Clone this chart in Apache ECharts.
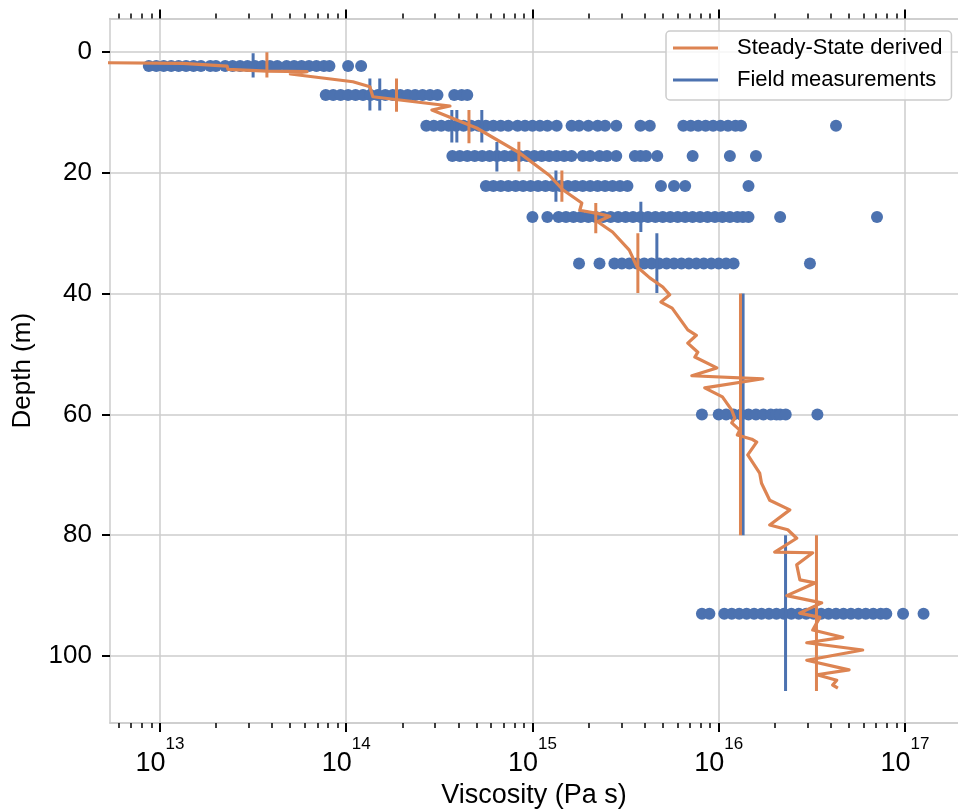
<!DOCTYPE html>
<html>
<head>
<meta charset="utf-8">
<script src="https://cdn.jsdelivr.net/npm/echarts@6/dist/echarts.min.js"></script>
<style>
html, body { margin: 0; padding: 0; background: #fff; }
#chart { width: 958px; height: 812px; }
</style>
</head>
<body>
<div id="chart"></div>
<script>
var chart = echarts.init(document.getElementById('chart'));

var BLUE = '#4c72b0';
var ORANGE = '#dd8452';
var GRID = '#cccccc';
var FONT = 'Liberation Sans';

// axis extents (x as log10 of viscosity)
var xLo = 12.7315, xHi = 17.285;
var yLo = -5.55, yHi = 111.09;

var majorExp = [13, 14, 15, 16, 17];
var depthTicks = [0, 20, 40, 60, 80, 100];

// sample rows: depth of each row and log10 viscosity of the dots
var rowDepths = [2.3, 7.1, 12.2, 17.2, 22.2, 27.3, 35, 60, 93];
var dots2 = [12.94, 12.98, 13.02, 13.06, 13.10, 13.14, 13.18, 13.22, 13.27, 13.30, 13.35, 13.39, 13.43, 13.47,
    13.51, 13.55, 13.59, 13.63, 13.68, 13.72, 13.76, 13.80, 13.84, 13.88, 13.91, 14.01, 14.08];
var dots7 = [13.89, 13.93, 13.97, 14.01, 14.05, 14.09, 14.13, 14.17, 14.21, 14.25, 14.29, 14.33, 14.37, 14.41,
    14.45, 14.49, 14.58, 14.62, 14.65];
var dots12 = [14.43, 14.47, 14.51, 14.55, 14.59, 14.63, 14.67, 14.71, 14.75, 14.79, 14.83, 14.87, 14.92, 14.96,
    15.00, 15.04, 15.08, 15.13, 15.21, 15.25, 15.30, 15.35, 15.39, 15.45, 15.58, 15.63,
    15.81, 15.85, 15.89, 15.93, 15.97, 16.01, 16.05, 16.09, 16.12, 16.63];
var dots17 = [14.57, 14.61, 14.65, 14.69, 14.73, 14.77, 14.81, 14.85, 14.89, 14.93, 14.97, 15.01, 15.05, 15.09,
    15.13, 15.17, 15.21, 15.27, 15.31, 15.36, 15.40, 15.45, 15.55, 15.58, 15.61, 15.67, 15.86, 16.06, 16.20];
var dots22 = [14.75, 14.79, 14.83, 14.87, 14.91, 14.95, 14.99, 15.03, 15.07, 15.11, 15.15, 15.19, 15.23, 15.27,
    15.31, 15.35, 15.39, 15.43, 15.47, 15.51, 15.69, 15.76, 15.82, 16.16];
var dots27 = [15.00, 15.08, 15.14, 15.18, 15.22, 15.26, 15.30, 15.34, 15.38, 15.42, 15.46, 15.50, 15.54, 15.58,
    15.62, 15.66, 15.70, 15.74, 15.78, 15.82, 15.86, 15.90, 15.94, 15.98, 16.02, 16.06, 16.10, 16.13, 16.16,
    16.33, 16.85];
var dots35 = [15.25, 15.36, 15.44, 15.48, 15.52, 15.56, 15.60, 15.64, 15.68, 15.72, 15.76, 15.80, 15.84, 15.88,
    15.92, 15.96, 16.00, 16.04, 16.08, 16.49];
var dots60 = [15.91, 16.00, 16.04, 16.08, 16.12, 16.16, 16.20, 16.24, 16.28, 16.31, 16.33, 16.36, 16.53];
var dots93 = [15.91, 15.95, 16.03, 16.07, 16.11, 16.15, 16.19, 16.23, 16.27, 16.31, 16.35, 16.39, 16.43, 16.47,
    16.51, 16.55, 16.59, 16.63, 16.67, 16.71, 16.75, 16.79, 16.83, 16.87, 16.90, 16.99, 17.10];

// field measurement markers (log10 viscosity, top depth, bottom depth)
var fieldExp = [13.50, 14.127, 14.18, 14.567, 14.594, 14.728, 14.809, 15.126, 15.582, 15.668, 16.131, 16.359];
var fieldTop = [0.2, 4.4, 4.4, 9.6, 9.6, 9.6, 14.9, 19.6, 24.8, 30.0, 40.0, 80.0];
var fieldBot = [4.2, 9.7, 9.7, 15.0, 15.0, 15.0, 19.8, 24.8, 29.8, 39.9, 80.0, 105.8];

// steady-state markers
var steadyExp = [13.574, 14.27, 14.659, 14.927, 15.158, 15.34, 15.566, 16.117, 16.525];
var steadyTop = [0.05, 4.4, 9.6, 14.85, 19.6, 25.0, 30.0, 40.0, 80.0];
var steadyBot = [4.2, 9.9, 15.1, 19.8, 24.8, 30.0, 39.9, 80.0, 105.8];

// steady-state derived profile
var profileExp = [12.70, 13.123, 13.36, 13.365, 13.574, 13.79, 13.70, 14.036, 14.127, 14.143, 14.557, 14.46,
    14.70, 14.93, 15.09, 15.163, 15.265, 15.254, 15.36, 15.415, 15.35, 15.43, 15.52, 15.56, 15.63, 15.70,
    15.737, 15.69, 15.75, 15.834, 15.88, 15.834, 15.888, 15.872, 15.99, 15.856, 16.237, 15.925, 16.02, 16.07,
    16.086, 16.07, 16.113, 16.10, 16.178, 16.204, 16.156, 16.22, 16.23, 16.274, 16.382, 16.274, 16.371, 16.419,
    16.301, 16.505, 16.419, 16.436, 16.517, 16.366, 16.553, 16.435, 16.543, 16.505, 16.666, 16.473, 16.773,
    16.473, 16.70, 16.527, 16.634, 16.612, 16.64];
var profileDepth = [1.77, 1.87, 2.32, 2.86, 3.15, 3.26, 3.64, 4.92, 5.75, 7.4, 8.94, 9.6,
    12.58, 16.7, 20.4, 22.8, 25.0, 26.2, 26.8, 27.2, 28.1, 29.8, 32.8, 35.5, 37.4, 38.9,
    40.2, 41.4, 42.4, 46.0, 46.9, 48.2, 49.7, 50.5, 52.3, 53.6, 54.1, 55.6, 57.1, 59.3,
    60.6, 61.4, 62.6, 63.4, 64.1, 64.6, 66.7, 69.7, 71.4, 74.2, 75.8, 78.3, 79.1, 80.5,
    82.8, 82.9, 84.9, 87.4, 87.9, 90.0, 91.2, 92.9, 93.6, 95.7, 96.9, 97.8, 99.0,
    100.7, 102.3, 103.1, 104.0, 104.8, 105.3];

function p10(e) { return Math.pow(10, e); }

var minorVals = [];
for (var d = 12; d <= 17; d++) {
    for (var k = 2; k <= 9; k++) {
        var v = k * p10(d);
        if (v > p10(xLo) && v < p10(xHi)) minorVals.push(v);
    }
}
var majorVals = majorExp.map(p10);

var rows = [dots2, dots7, dots12, dots17, dots22, dots27, dots35, dots60, dots93];
var scatterData = [];
rows.forEach(function (row, i) {
    row.forEach(function (e) { scatterData.push([p10(e), rowDepths[i]]); });
});

var series = [{
    name: 'samples',
    type: 'scatter',
    data: scatterData,
    symbolSize: 12,
    itemStyle: { color: BLUE, opacity: 1 },
    z: 2
}];

function segment(name, color, e, top, bot) {
    return {
        name: name,
        type: 'line',
        data: [[p10(e), top], [p10(e), bot]],
        symbol: 'none',
        lineStyle: { color: color, width: 3 },
        itemStyle: { color: color },
        z: 3
    };
}
fieldExp.forEach(function (e, i) {
    series.push(segment('Field measurements', BLUE, e, fieldTop[i], fieldBot[i]));
});
steadyExp.forEach(function (e, i) {
    series.push(segment('Steady-State derived', ORANGE, e, steadyTop[i], steadyBot[i]));
});
series.push({
    name: 'Steady-State derived',
    type: 'line',
    data: profileExp.map(function (e, i) { return [p10(e), profileDepth[i]]; }),
    symbol: 'none',
    lineStyle: { color: ORANGE, width: 3.2, join: 'round' },
    itemStyle: { color: ORANGE },
    z: 4
});

function xAxisDef(pos, vals, len, w, labels) {
    var ax = {
        type: 'log',
        logBase: 10,
        position: pos,
        min: p10(xLo),
        max: p10(xHi),
        axisLine: { show: true, onZero: false, lineStyle: { color: GRID, width: 1.5 } },
        axisTick: { show: true, customValues: vals, length: len, lineStyle: { color: '#000', width: w } },
        axisLabel: { show: false },
        splitLine: { show: false },
        minorTick: { show: false },
        minorSplitLine: { show: false }
    };
    if (labels) {
        ax.axisLabel = {
            show: true,
            customValues: majorVals,
            margin: 13,
            formatter: function (v) {
                return '{b|10}{s|' + Math.round(Math.log10(v)) + '}';
            },
            rich: {
                b: { fontSize: 27, fontFamily: FONT, color: '#000', padding: [14, 0, 0, 0] },
                s: { fontSize: 17, fontFamily: FONT, color: '#000', verticalAlign: 'top' }
            }
        };
        ax.splitLine = { show: true, lineStyle: { color: GRID, width: 1.5 } };
        ax.name = 'Viscosity (Pa s)';
        ax.nameLocation = 'middle';
        ax.nameGap = 58;
        ax.nameTextStyle = { fontSize: 27, fontFamily: FONT, color: '#000' };
    }
    return ax;
}

var option = {
    animation: false,
    backgroundColor: '#fff',
    grid: { left: 110, top: 18.5, right: 0, bottom: 89, containLabel: false, outerBoundsMode: 'none' },
    legend: {
        orient: 'vertical',
        left: 666,
        top: 31,
        padding: [6, 9, 9, 7],
        itemGap: 10,
        itemWidth: 45,
        itemHeight: 3,
        icon: 'rect',
        borderColor: GRID,
        borderWidth: 1.5,
        borderRadius: 4,
        backgroundColor: 'rgba(255,255,255,0.8)',
        textStyle: { fontSize: 22, fontFamily: FONT, color: '#000', padding: [0, 0, 0, 14], lineHeight: 22 },
        data: [
            { name: 'Steady-State derived', itemStyle: { color: ORANGE } },
            { name: 'Field measurements', itemStyle: { color: BLUE } }
        ]
    },
    xAxis: [
        xAxisDef('bottom', majorVals, 9, 2, true),
        xAxisDef('bottom', minorVals, 5, 1.5, false),
        xAxisDef('top', majorVals, 9, 2, false),
        xAxisDef('top', minorVals, 5, 1.5, false)
    ],
    yAxis: [{
        type: 'value',
        inverse: true,
        min: yLo,
        max: yHi,
        axisLine: { show: true, onZero: false, lineStyle: { color: GRID, width: 1.5 } },
        axisTick: { show: true, customValues: depthTicks, length: 8, lineStyle: { color: '#000', width: 2 } },
        axisLabel: { customValues: depthTicks, margin: 18, fontSize: 26, fontFamily: FONT, color: '#000' },
        splitLine: { show: true, lineStyle: { color: GRID, width: 1.5 } },
        name: 'Depth (m)',
        nameLocation: 'middle',
        nameGap: 74,
        nameTextStyle: { fontSize: 26, fontFamily: FONT, color: '#000' }
    }],
    series: series
};

chart.setOption(option);
</script>
</body>
</html>
